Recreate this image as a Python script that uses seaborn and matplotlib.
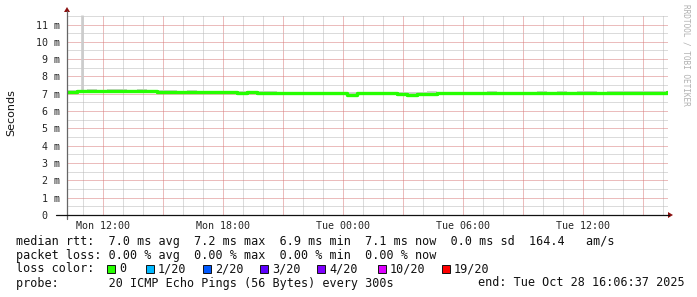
import matplotlib
matplotlib.use("Agg")
import matplotlib.pyplot as plt
import seaborn as sns
import pandas as pd
from matplotlib.lines import Line2D
from matplotlib.patches import Rectangle, Polygon
from matplotlib.ticker import FixedLocator

# ---------------- data (hours since Mon 00:00, values in ms) ----------------
hours = [10.2 + 0.5 * i for i in range(61)]
median_ms = [7.12, 7.15, 7.18, 7.15,
             7.17, 7.18, 7.15, 7.17, 7.15, 7.12,
             7.12, 7.10, 7.12, 7.08, 7.08, 7.08,
             7.08, 7.07, 7.08, 7.05, 7.06, 7.05,
             7.05, 7.03, 7.02, 7.03, 7.02, 7.03,
             6.93, 7.03, 7.02, 7.03, 7.02, 7.00,
             6.95, 6.96, 7.00, 7.03, 7.03, 7.03,
             7.03, 7.02, 7.05, 7.03, 7.03, 7.03,
             7.03, 7.05, 7.03, 7.05, 7.04, 7.05,
             7.05, 7.05, 7.07, 7.06, 7.06, 7.07,
             7.07, 7.06, 7.08]
smoke_hi = [7.20, 7.24, 7.26, 7.24,
            7.26, 7.25, 7.24, 7.25, 7.22, 7.20,
            7.20, 7.18, 7.22, 7.17, 7.16, 7.15,
            7.15, 7.16, 7.15, 7.14, 7.15, 7.13,
            7.13, 7.12, 7.10, 7.12, 7.11, 7.12,
            7.10, 7.12, 7.11, 7.12, 7.10, 7.09,
            7.10, 7.12, 7.14, 7.12, 7.11, 7.12,
            7.12, 7.11, 7.14, 7.12, 7.12, 7.11,
            7.12, 7.14, 7.12, 7.14, 7.13, 7.14,
            7.14, 7.13, 7.16, 7.14, 7.15, 7.16,
            7.15, 7.14, 7.15]
smoke_lo = [7.06, 7.08, 7.10, 7.08,
            7.10, 7.10, 7.08, 7.10, 7.08, 7.05,
            7.04, 7.02, 7.05, 7.00, 7.01, 7.00,
            7.01, 7.00, 7.01, 6.98, 6.99, 6.98,
            6.98, 6.96, 6.95, 6.96, 6.95, 6.96,
            6.86, 6.96, 6.95, 6.96, 6.95, 6.93,
            6.88, 6.89, 6.93, 6.96, 6.96, 6.96,
            6.96, 6.95, 6.98, 6.96, 6.96, 6.96,
            6.96, 6.98, 6.96, 6.98, 6.97, 6.98,
            6.98, 6.98, 7.00, 6.99, 6.99, 7.00,
            7.00, 6.99, 7.01]
spike_hour = 10.97
spike_lo_ms = 7.20
spike_hi_ms = 11.55

x_start, x_end = 10.2, 40.25
y_top = 11.55
ytick_vals = list(range(12))
ytick_labels = ["0  "] + [f"{v} m" for v in range(1, 12)]
xtick_hours = [12, 18, 24, 30, 36]
xtick_labels = ["Mon 12:00", "Mon 18:00", "Tue 00:00", "Tue 06:00", "Tue 12:00"]
loss_labels = ["0", "1/20", "2/20", "3/20", "4/20", "10/20", "19/20"]
loss_colors = ["#26ff00", "#00b8ff", "#0059ff", "#5e00ff", "#7e00ff", "#dd00ff", "#ff0000"]
loss_box_x = [107, 146, 203, 260, 317, 378, 442]

line1 = "median rtt:  7.0 ms avg  7.2 ms max  6.9 ms min  7.1 ms now  0.0 ms sd  164.4   am/s"
line2 = "packet loss: 0.00 % avg  0.00 % max  0.00 % min  0.00 % now"
line4a = "probe:       20 ICMP Echo Pings (56 Bytes) every 300s"
line4b = "end: Tue Oct 28 16:06:37 2025"

# ---------------- figure ----------------
sns.set_style("white")
plt.rcParams["font.family"] = ["DejaVu Sans"]
W, H = 697, 297
fig = plt.figure(figsize=(W / 100, H / 100), dpi=100)
fig.patch.set_facecolor("white")

def fx(px):
    return px / W

def fy(py):
    return 1 - py / H

L, R, T, B = 67, 668, 15, 215
ax = fig.add_axes([fx(L), fy(B), fx(R) - fx(L), fy(T) - fy(B)])
ax.set_facecolor("white")
ax.set_xlim(x_start, x_end)
ax.set_ylim(0, y_top)

# grid
mono = "DejaVu Sans Mono"
major_x = [12 + 3 * i for i in range(10)]
minor_x = [h for h in range(11, 41) if h not in major_x]
minor_y = [v + 0.5 for v in range(12)]
ax.yaxis.set_major_locator(FixedLocator(ytick_vals))
ax.yaxis.set_minor_locator(FixedLocator(minor_y))
ax.xaxis.set_major_locator(FixedLocator(major_x))
ax.xaxis.set_minor_locator(FixedLocator(minor_x))
ax.set_yticklabels(ytick_labels, family=mono, fontsize=7.2)
ax.set_xticklabels([xtick_labels[xtick_hours.index(h)] if h in xtick_hours else "" for h in major_x],
                   family=mono, fontsize=7.2)
ax.tick_params(which="both", length=0)
ax.tick_params(axis="y", pad=5)
ax.tick_params(axis="x", pad=4)
ax.grid(which="minor", color="#b8b8b8", lw=0.72, ls=(0, (1, 1)))
ax.grid(which="major", color="#d87a7a", lw=0.72, ls=(0, (1, 1)))
ax.set_axisbelow(True)
for s in ax.spines.values():
    s.set_visible(False)

# smoke
ax.fill_between(hours, smoke_lo, smoke_hi, step="post", color="#d0d0d0", lw=0, zorder=2)
ax.vlines(spike_hour, spike_lo_ms, spike_hi_ms, color="#cccccc", lw=1.9, zorder=2)

# median line
df = pd.DataFrame({"hour": hours, "median": median_ms})
sns.lineplot(data=df, x="hour", y="median", ax=ax, color="#26ff00", lw=2.4,
             drawstyle="steps-post", zorder=3, legend=False)
ax.set_xlabel("")
ax.set_ylabel("")

# axis lines + arrows
fig.add_artist(Line2D([fx(L), fx(L)], [fy(219), fy(11)], color="#666666", lw=0.9))
fig.add_artist(Line2D([fx(56), fx(R + 1)], [fy(B), fy(B)], color="#111111", lw=0.9))
fig.add_artist(Polygon([[fx(L - 3), fy(12)], [fx(L + 3), fy(12)], [fx(L), fy(7)]],
                       closed=True, color="#8b1010", lw=0))
fig.add_artist(Polygon([[fx(R), fy(B - 3)], [fx(R), fy(B + 3)], [fx(R + 5), fy(B)]],
                       closed=True, color="#8b1010", lw=0))

# labels
fig.text(fx(11), fy(113), "Seconds", rotation=90, ha="center", va="center",
         fontsize=8, family="DejaVu Sans", color="#111111")
fig.text(fx(686), fy(4), "RRDTOOL / TOBI OETIKER", rotation=270, ha="center", va="top",
         fontsize=5.6, family=mono, color="#b0b0b0")

fs = 8.5
fig.text(fx(16), fy(241), line1, ha="left", va="center", family=mono, fontsize=fs, color="#111111")
fig.text(fx(16), fy(255), line2, ha="left", va="center", family=mono, fontsize=fs, color="#111111")
fig.text(fx(16), fy(269), "loss color:", ha="left", va="center", family=mono, fontsize=fs, color="#111111")
for lab, col, bx in zip(loss_labels, loss_colors, loss_box_x):
    fig.add_artist(Rectangle((fx(bx), fy(273)), fx(8), 8 / H, facecolor=col,
                             edgecolor="#111111", lw=0.7))
    fig.text(fx(bx + 12), fy(269), lab, ha="left", va="center", family=mono, fontsize=fs, color="#111111")
fig.text(fx(16), fy(283), line4a, ha="left", va="center", family=mono, fontsize=fs, color="#111111")
fig.text(fx(478), fy(283), line4b, ha="left", va="center", family=mono, fontsize=fs, color="#111111")

fig.savefig("out.png", dpi=100, facecolor="white")
